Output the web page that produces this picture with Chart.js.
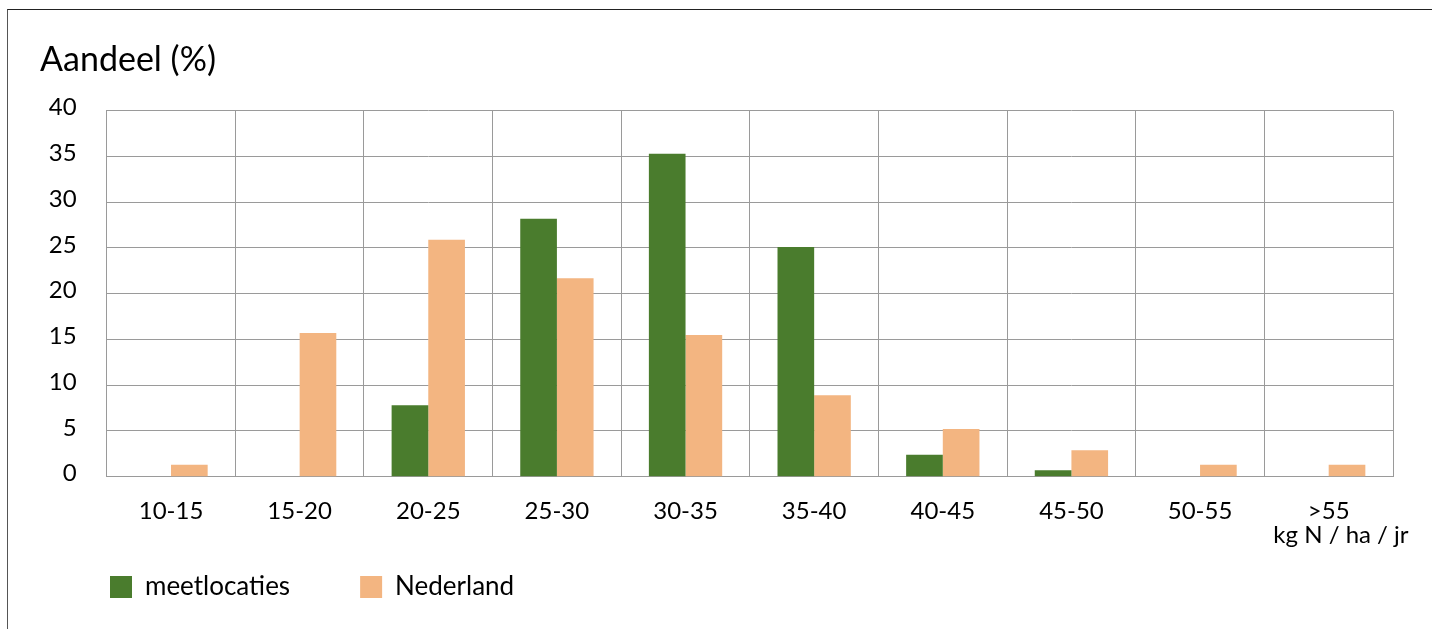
<!DOCTYPE html>
<html>
<head>
<meta charset="utf-8">
<script src="https://cdn.jsdelivr.net/npm/chart.js@4.4.1/dist/chart.umd.min.js"></script>
<style>
  html, body { margin: 0; padding: 0; background: #fff; overflow: hidden; }
  #wrap { position: absolute; left: 0; top: 0; width: 1432px; height: 629px; }
  #frame { position: absolute; left: 7px; top: 9px; width: 1424px; height: 619px;
           border-top: 1px solid #222; border-left: 1px solid #555; pointer-events: none; }
</style>
</head>
<body>
<div id="wrap"><canvas id="myChart"></canvas></div>
<div id="frame"></div>
<script>
// categories on the x axis (kg N / ha / jr)
const categories = ['10-15', '15-20', '20-25', '25-30', '30-35', '35-40', '40-45', '45-50', '50-55', ['>55', '    kg N / ha / jr']];

// share per class (%)
const meetlocaties = [0, 0, 7.8, 28.2, 35.3, 25.1, 2.4, 0.7, 0, 0];
const nederland = [1.3, 15.7, 25.9, 21.7, 15.5, 8.9, 5.2, 2.9, 1.3, 1.3];

// y axis ticks
const yTicks = [0, 5, 10, 15, 20, 25, 30, 35, 40];

const gridColor = '#9a9a9a';

Chart.defaults.font.family = 'Lato';
Chart.defaults.color = '#000';

// the x labels hang below the (shortened) axis box, so don't clip them
const noLabelClip = {
  id: 'noLabelClip',
  afterLayout: chart => { chart.scales.x._computeLabelArea = () => undefined; }
};

const ctx = document.querySelector('#myChart').getContext('2d');

new Chart(ctx, {
  type: 'bar',
  data: {
    labels: categories,
    datasets: [
      {
        label: 'meetlocaties',
        backgroundColor: '#4a7c2d',
        data: meetlocaties,
        categoryPercentage: 0.57,
        barPercentage: 1
      },
      {
        label: 'Nederland',
        backgroundColor: '#f3b581',
        data: nederland,
        categoryPercentage: 0.57,
        barPercentage: 1
      }
    ]
  },
  plugins: [noLabelClip],
  options: {
    responsive: true,
    maintainAspectRatio: false,
    animation: false,
    layout: { padding: { left: 40, right: 39, top: 0, bottom: 19 } },
    plugins: {
      tooltip: { enabled: false },
      title: {
        display: true,
        text: 'Aandeel (%)',
        align: 'start',
        color: '#000',
        font: { size: 34, weight: 'normal', lineHeight: 1.2 },
        padding: { top: 39.4, bottom: 30.5 }
      },
      legend: {
        position: 'bottom',
        align: 'start',
        labels: {
          boxWidth: 22,
          boxHeight: 22,
          padding: 70,
          color: '#000',
          font: { size: 26 }
        }
      }
    },
    scales: {
      x: {
        grid: { color: gridColor, drawTicks: false, offset: true },
        border: { color: gridColor },
        ticks: {
          padding: 22.7,
          autoSkip: false,
          maxRotation: 0,
          minRotation: 0,
          font: { size: 24, lineHeight: 1 }
        },
        afterFit: scale => {
          scale.height = 27.3;
          scale.paddingLeft = 0;
          scale.paddingRight = 0;
        }
      },
      y: {
        min: 0,
        max: 40,
        afterBuildTicks: scale => { scale.ticks = yTicks.map(v => ({ value: v })); },
        grid: { color: gridColor, drawTicks: false },
        border: { color: gridColor },
        ticks: {
          padding: 30,
          labelOffset: -3,
          font: { size: 24 }
        },
        afterFit: scale => { scale.width = 66.7; }
      }
    }
  }
});
</script>
</body>
</html>
